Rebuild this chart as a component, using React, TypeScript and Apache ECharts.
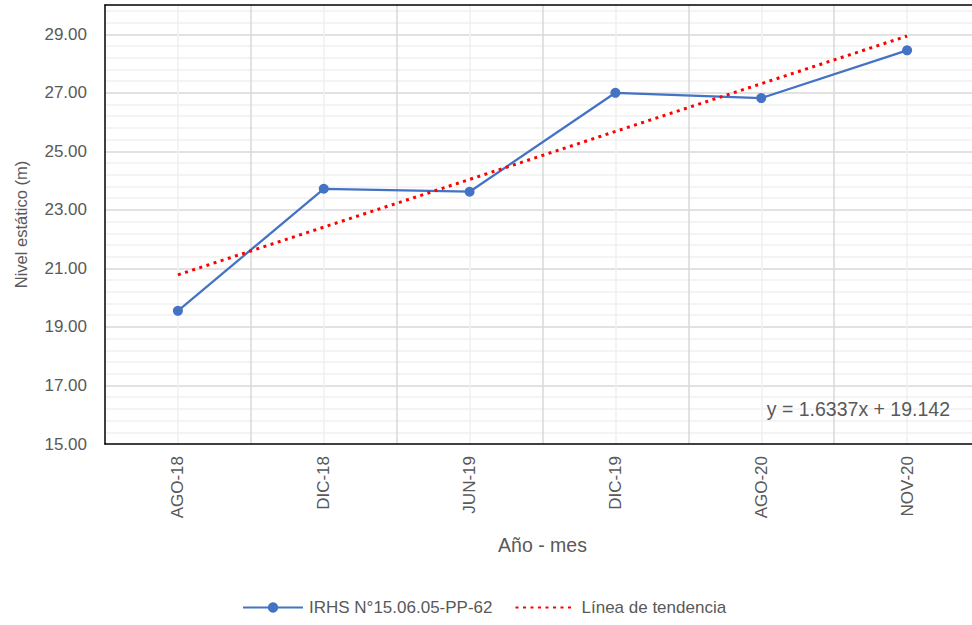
import React, { useEffect, useRef } from "react";
import * as echarts from "echarts";

const categories = ["AGO-18", "DIC-18", "JUN-19", "DIC-19", "AGO-20", "NOV-20"];
const nivelValues = [19.55, 23.72, 23.62, 27.0, 26.82, 28.45];
const trendValues = [20.78, 22.41, 24.04, 25.68, 27.31, 28.94];
const seriesName = "IRHS N°15.06.05-PP-62";
const trendName = "Línea de tendencia";
const equationText = "y = 1.6337x + 19.142";

const FONT = "'Liberation Sans', Arial, sans-serif";
const TXT = "#595959";
const MAJOR = "#d9d9d9";
const MINOR = "#f0f0f0";

export default function App() {
  const ref = useRef<HTMLDivElement>(null);
  useEffect(() => {
    if (!ref.current) return;
    const chart = echarts.init(ref.current, undefined, { renderer: "svg" });
    chart.setOption({
      animation: false,
      backgroundColor: "#ffffff",
      textStyle: { fontFamily: FONT },
      grid: { left: 105, top: 5, right: 0, bottom: 181, containLabel: false },
      xAxis: [
        {
          type: "category",
          data: categories,
          boundaryGap: true,
          position: "bottom",
          axisLine: { show: true, lineStyle: { color: "#000", width: 1.5 } },
          axisTick: { show: false },
          splitLine: { show: false },
          axisLabel: { rotate: 90, margin: 12, color: TXT, fontSize: 17, fontFamily: FONT },
          name: "Año - mes",
          nameLocation: "middle",
          nameGap: 91,
          nameTextStyle: { color: TXT, fontSize: 19.5, fontFamily: FONT },
        },
        {
          type: "value",
          min: 0,
          max: 12,
          interval: 1,
          position: "top",
          axisLine: { show: true, lineStyle: { color: "#000", width: 1.5 } },
          axisTick: { show: false },
          axisLabel: { show: false },
          splitLine: { show: true, showMinLine: false, showMaxLine: false, lineStyle: { color: [MINOR, MAJOR], width: 1.5 } },
        },
      ],
      yAxis: [
        {
          type: "value",
          min: 15,
          max: 30,
          interval: 2,
          position: "left",
          axisLine: { show: true, lineStyle: { color: "#000", width: 1.5 } },
          axisTick: { show: false },
          splitLine: { show: false },
          axisLabel: {
            showMaxLabel: false,
            color: TXT,
            fontSize: 17,
            fontFamily: FONT,
            margin: 18,
            formatter: (v: number) => v.toFixed(2),
          },
          name: "Nivel estático (m)",
          nameLocation: "middle",
          nameGap: 76,
          nameTextStyle: { color: TXT, fontSize: 16.5, fontFamily: FONT },
        },
        {
          type: "value",
          min: 0,
          max: 37.5,
          interval: 1,
          position: "right",
          axisLine: { show: false },
          axisTick: { show: false },
          axisLabel: { show: false },
          splitLine: {
            show: true,
            showMinLine: false,
            showMaxLine: false,
            lineStyle: { color: [MINOR, MINOR, MINOR, MINOR, MAJOR], width: 1.5 },
          },
        },
      ],
      legend: {
        bottom: 9,
        left: 242,
        padding: 0,
        itemGap: 22,
        itemWidth: 60,
        itemHeight: 13,
        textStyle: { color: TXT, fontSize: 17, fontFamily: FONT, padding: [0, 0, 0, 1] },
        data: [
          { name: seriesName },
          { name: trendName, itemStyle: { opacity: 0 } },
        ],
      },
      graphic: [
        {
          type: "text",
          right: 30,
          top: 399,
          z: 10,
          style: { text: equationText, fill: TXT, fontSize: 19.5, fontFamily: FONT },
        },
      ],
      series: [
        {
          name: seriesName,
          type: "line",
          data: nivelValues,
          xAxisIndex: 0,
          yAxisIndex: 0,
          symbol: "circle",
          symbolSize: 10,
          lineStyle: { color: "#4472C4", width: 2.25 },
          itemStyle: { color: "#4472C4" },
          z: 3,
        },
        {
          name: trendName,
          type: "line",
          data: trendValues,
          xAxisIndex: 0,
          yAxisIndex: 0,
          symbol: "none",
          lineStyle: { color: "#FF0000", width: 3, type: [3, 4.5] },
          itemStyle: { color: "#FF0000" },
          z: 4,
        },
      ],
    });
    return () => chart.dispose();
  }, []);
  return (
    <div
      ref={ref}
      style={{ position: "fixed", left: 0, top: 0, width: 980, height: 625 }}
    />
  );
}
